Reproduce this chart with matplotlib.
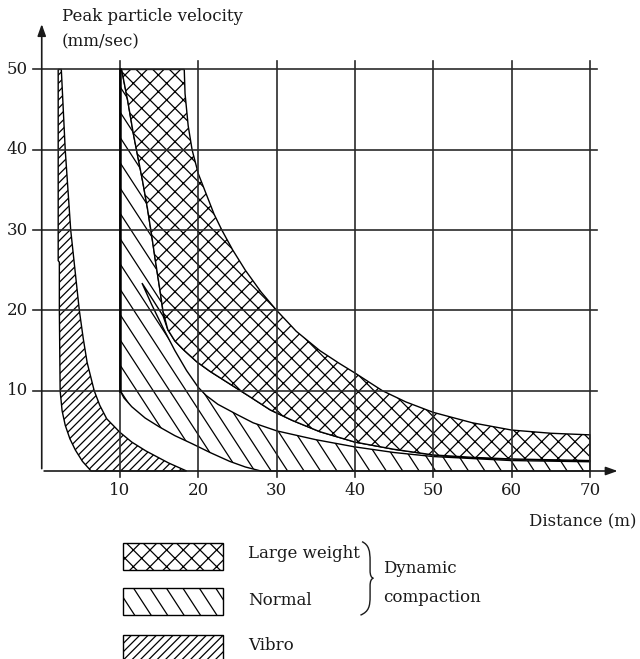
import matplotlib
matplotlib.use("Agg")
import matplotlib.pyplot as plt
import numpy as np
from matplotlib.patches import Polygon, Rectangle, PathPatch
from matplotlib.path import Path
from matplotlib.collections import LineCollection

plt.rcParams['font.family'] = ['DejaVu Serif', 'Liberation Serif']
plt.rcParams['hatch.linewidth'] = 0.9

# boundary curves (distance m, velocity mm/sec)
large_lo_x = [10.2, 11.0, 11.7, 12.3, 12.9, 13.5, 14.0, 14.5, 15.1, 15.5, 16.1, 17.0, 18.1, 19.8, 21.5,
              23.6, 26.5, 29.2, 32.0, 35.5, 40.0, 45.0, 50.0, 55.0, 60.0, 65.0, 70.0]
large_lo_y = [50.0, 46.0, 42.0, 39.0, 36.0, 32.7, 29.6, 26.3, 22.5, 19.8, 17.6, 16.2, 15.1, 13.6, 12.4,
              11.1, 9.3, 7.6, 6.3, 4.9, 3.6, 2.7, 2.0, 1.7, 1.5, 1.4, 1.3]
large_hi_x = [18.2, 18.3, 18.7, 19.2, 20.0, 21.0, 22.0, 23.0, 24.4, 26.0, 28.0, 30.0, 32.5, 35.5, 38.0,
              40.0, 43.5, 46.5, 50.0, 55.0, 60.0, 65.0, 70.0]
large_hi_y = [50.0, 47.0, 43.0, 40.0, 37.0, 34.5, 32.0, 30.0, 27.5, 25.0, 22.3, 20.0, 17.4, 15.0, 13.4,
              12.2, 10.0, 8.6, 7.3, 6.0, 5.1, 4.7, 4.5]

normal_lo_x = [10.0, 10.5, 11.5, 13.2, 15.0, 17.0, 19.2, 21.5, 24.0, 26.0, 28.0]
normal_lo_y = [10.0, 9.1, 8.0, 6.6, 5.5, 4.4, 3.4, 2.3, 1.2, 0.5, 0.0]
normal_hi_x = [12.8, 14.0, 15.5, 17.0, 18.5, 20.0, 21.0, 22.5, 25.0, 27.0, 30.0, 35.0, 40.0, 45.0,
               50.0, 60.0, 70.0]
normal_hi_y = [23.4, 20.8, 17.8, 15.0, 12.5, 10.4, 9.4, 8.3, 7.0, 6.0, 5.0, 3.9, 3.0, 2.3,
               1.8, 1.3, 1.15]
gap_top_x = [12.8, 14.2, 15.5, 16.1]
gap_top_y = [23.4, 21.3, 19.3, 17.6]

vibro_lo_x = [2.1, 2.1, 2.1, 2.25, 2.25, 2.35, 2.6, 3.0, 3.6, 4.3, 5.2, 6.3]
vibro_lo_y = [50.0, 30.0, 26.2, 26.0, 20.0, 10.0, 7.5, 5.7, 4.0, 2.6, 1.2, 0.0]
vibro_hi_x = [2.5, 3.0, 3.35, 3.7, 4.25, 4.8, 5.3, 5.8, 6.7, 7.4, 8.3, 10.0, 11.5, 13.3, 16.2, 18.5]
vibro_hi_y = [50.0, 40.0, 35.0, 30.0, 25.0, 20.0, 16.5, 13.5, 10.0, 8.2, 6.5, 4.8, 3.6, 2.5, 1.0, 0.0]

x_ticks = [10, 20, 30, 40, 50, 60, 70]
y_ticks = [10, 20, 30, 40, 50]
x_max = 70
y_max = 50

legend_labels = ["Large weight", "Normal", "Vibro"]
legend_hatches = ["xx", None, "////"]

fig = plt.figure(figsize=(6.4, 6.59), dpi=100)
ax = fig.add_axes([0, 0, 1, 1])
ax.set_xlim(-5.33, 76.4)
ax.set_ylim(-23.41, 58.65)
ax.axis("off")

fs = 12
tc = "#1a1a1a"


def steep_hatch(patch, zorder):
    # the "normal" hatch in the original is steeper than 45 degrees
    s = 1.5
    segs = [[(x0 - 60 / s, 60), (x0 + 30 / s, -30)] for x0 in np.arange(-40, 130, 2.1)]
    lc = LineCollection(segs, colors="black", linewidths=0.9, zorder=zorder)
    ax.add_collection(lc)
    lc.set_clip_path(patch)


# vibro band
vib = list(zip(vibro_lo_x, vibro_lo_y)) + list(zip(vibro_hi_x[::-1], vibro_hi_y[::-1]))
ax.add_patch(Polygon(vib, closed=True, facecolor="white", edgecolor="black",
                     hatch="////", lw=1.0, zorder=2))

# normal band (top edge follows the large-weight lower curve)
norm = [(10.0, 50.0)] + list(zip(normal_lo_x, normal_lo_y)) + [(x_max, 0.0)] \
    + list(zip(large_lo_x[::-1], large_lo_y[::-1]))
norm_patch = Polygon(norm, closed=True, facecolor="white", edgecolor="black", lw=1.0, zorder=2)
ax.add_patch(norm_patch)
steep_hatch(norm_patch, 2.5)

# white gap between normal and large weight
merge = large_lo_x.index(16.1)
gap = list(zip(normal_hi_x, normal_hi_y)) \
    + list(zip(large_lo_x[:merge - 1:-1], large_lo_y[:merge - 1:-1])) \
    + list(zip(gap_top_x[::-1], gap_top_y[::-1]))
ax.add_patch(Polygon(gap, closed=True, facecolor="white", edgecolor="black", lw=1.0, zorder=3))

# large weight band
large = list(zip(large_lo_x, large_lo_y)) + list(zip(large_hi_x[::-1], large_hi_y[::-1]))
ax.add_patch(Polygon(large, closed=True, facecolor="white", edgecolor="black",
                     hatch="xx", lw=1.0, zorder=4))

# grid
for xv in x_ticks:
    ax.plot([xv, xv], [-0.8, y_max + 1.0], color="#2a2a2a", lw=1.2, zorder=5)
for yv in y_ticks:
    ax.plot([-1.1, x_max + 0.9], [yv, yv], color="#2a2a2a", lw=1.2, zorder=5)
ax.plot([10, 10], [10, y_max], color="black", lw=1.8, zorder=5)

# axes with arrows
ax.annotate("", xy=(0, 56.0), xytext=(0, -0.05),
            arrowprops=dict(arrowstyle="-|>,head_length=0.7,head_width=0.25", color=tc, lw=1.2),
            zorder=6)
ax.annotate("", xy=(73.9, 0), xytext=(-0.05, 0),
            arrowprops=dict(arrowstyle="-|>,head_length=0.7,head_width=0.25", color=tc, lw=1.2),
            zorder=6)

for xv in x_ticks:
    ax.text(xv, -2.4, str(xv), ha="center", va="center", fontsize=fs, color=tc)
for yv in y_ticks:
    ax.text(-1.75, yv, str(yv), ha="right", va="center", fontsize=fs, color=tc)

ax.text(2.6, 56.6, "Peak particle velocity", ha="left", va="center", fontsize=fs, color=tc)
ax.text(2.6, 53.4, "(mm/sec)", ha="left", va="center", fontsize=fs, color=tc)
ax.text(76.0, -6.35, "Distance (m)", ha="right", va="center", fontsize=fs, color=tc)

# legend
box_tops = [-8.97, -14.57, -20.4]
text_y = [-10.3, -16.1, -21.7]
for top, ty, lab, h in zip(box_tops, text_y, legend_labels, legend_hatches):
    box = Rectangle((10.4, top - 3.3), 12.75, 3.3, facecolor="white",
                    edgecolor="black", hatch=h, lw=1.0, zorder=2)
    ax.add_patch(box)
    if h is None:
        steep_hatch(box, 2.5)
    ax.text(26.4, ty, lab, ha="left", va="center", fontsize=fs, color=tc)

brace = Path([(40.9, -8.8), (41.8, -9.2), (41.93, -10.0), (41.93, -11.2),
              (41.93, -12.4),
              (41.93, -13.0), (42.1, -13.3), (42.35, -13.35),
              (42.1, -13.4), (41.93, -13.7), (41.93, -14.3),
              (41.93, -15.6),
              (41.93, -16.8), (41.8, -17.5), (40.7, -17.95)],
             [Path.MOVETO, Path.CURVE4, Path.CURVE4, Path.CURVE4,
              Path.LINETO,
              Path.CURVE4, Path.CURVE4, Path.CURVE4,
              Path.CURVE4, Path.CURVE4, Path.CURVE4,
              Path.LINETO,
              Path.CURVE4, Path.CURVE4, Path.CURVE4])
ax.add_patch(PathPatch(brace, facecolor="none", edgecolor=tc, lw=1.0))
ax.text(43.6, -12.1, "Dynamic", ha="left", va="center", fontsize=fs, color=tc)
ax.text(43.6, -15.7, "compaction", ha="left", va="center", fontsize=fs, color=tc)

fig.savefig("out.png", dpi=100)
